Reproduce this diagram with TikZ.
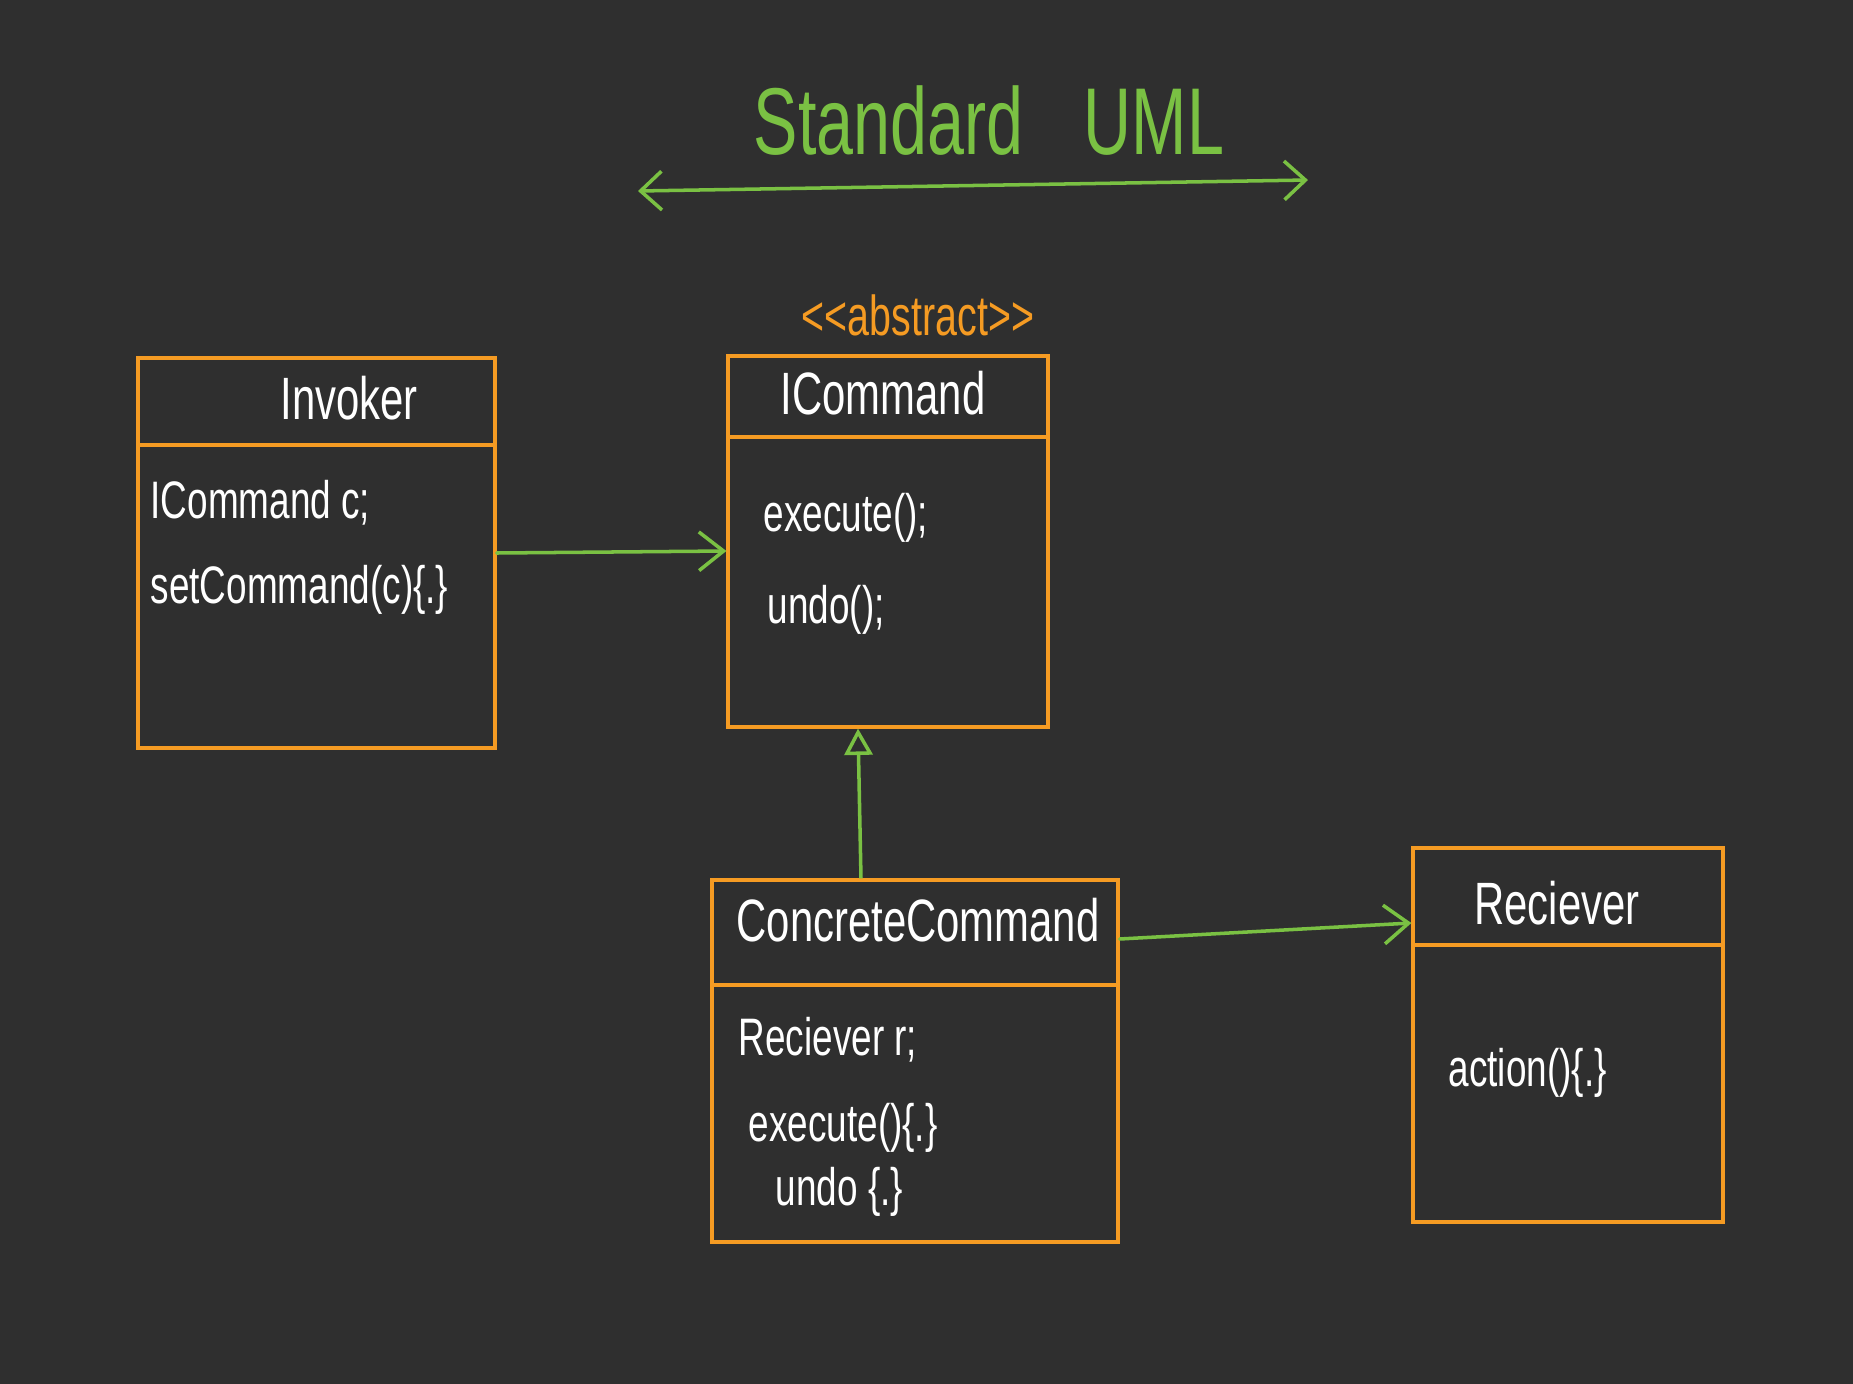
\documentclass[tikz,border=0pt]{standalone}
\usepackage{fontspec}
\newfontfamily\handfont{Liberation Sans}[FakeStretch=0.7]
\usepackage{tikz}
\usetikzlibrary{arrows.meta}
\usetikzlibrary{fit}
\definecolor{board}{RGB}{47,47,47}
\definecolor{chalkorange}{RGB}{245,155,35}
\definecolor{chalkgreen}{RGB}{122,193,67}
\tikzset{
  classbox/.style={draw=chalkorange, line width=.9pt, inner sep=0},
  classname/.style={inner sep=0, text=white, font=\handfont\fontsize{17}{20}\selectfont},
  member/.style={anchor=west, inner sep=0, text=white, font=\handfont\fontsize{15}{18}\selectfont},
  uses/.style={chalkgreen, line width=1pt, line cap=round, -{Straight Barb[length=7pt,width=11pt]}},
  extends/.style={chalkgreen, line width=1pt, -{Triangle[open,length=7.5pt,width=8pt]}}
}

\begin{document}
\begin{tikzpicture}[x=0.01cm, y=-0.01cm]
\fill[board] (0,0) rectangle (1853,1384);
\node[text=chalkgreen, font=\handfont\fontsize{27}{31}\selectfont] (title) at (989,121) {Standard\hspace{0.6cm}UML};
\coordinate (umlL) at (638,191);
\coordinate (umlR) at (1308,180);
\draw[chalkgreen, line width=1pt, line cap=round, {Straight Barb[length=6pt,width=11pt]}-{Straight Barb[length=6pt,width=11pt]}] (umlL) -- (umlR);

\node[classbox, fit={(138,358) (495,445)}] (invhead) {};
\node[classbox, fit={(138,445) (495,748)}] (invbody) {};
\node[classname] (invname) at (349,398) {Invoker};
\node[member] (invattr) at (150,503) {ICommand c;};
\node[member] (invop) at (150,590) {setCommand(c)\{.\}};

\node[text=chalkorange, font=\handfont\fontsize{16}{19}\selectfont] (stereo) at (918,315) {<<abstract>>};
\node[classbox, fit={(728,356) (1048,437)}] (icmdhead) {};
\node[classbox, fit={(728,437) (1048,727)}] (icmdbody) {};
\node[classname] (icmdname) at (883,393) {ICommand};
\node[member] (icmdexec) at (763,518) {execute();};
\node[member] (icmdundo) at (767,610) {undo();};

\node[classbox, fit={(712,880) (1118,985)}] (ccmdhead) {};
\node[classbox, fit={(712,985) (1118,1242)}] (ccmdbody) {};
\node[classname] (ccmdname) at (918,920) {ConcreteCommand};
\node[member] (ccmdattr) at (738,1040) {Reciever r;};
\node[member] (ccmdexec) at (748,1128) {execute()\{.\}};
\node[member] (ccmdundo) at (775,1192) {undo \{.\}};

\node[classbox, fit={(1413,848) (1723,945)}] (rcvhead) {};
\node[classbox, fit={(1413,945) (1723,1222)}] (rcvbody) {};
\node[classname] (rcvname) at (1557,903) {Reciever};
\node[member] (rcvop) at (1448,1073) {action()\{.\}};

\draw[uses] (invbody.east |- 0,553) -- (icmdbody.west |- 0,551);
\draw[extends] (ccmdhead.north -| 861,0) -- (icmdbody.south -| 858,0);
\draw[uses] (ccmdhead.east |- 0,939) -- (rcvhead.west |- 0,923);
\end{tikzpicture}
\end{document}
